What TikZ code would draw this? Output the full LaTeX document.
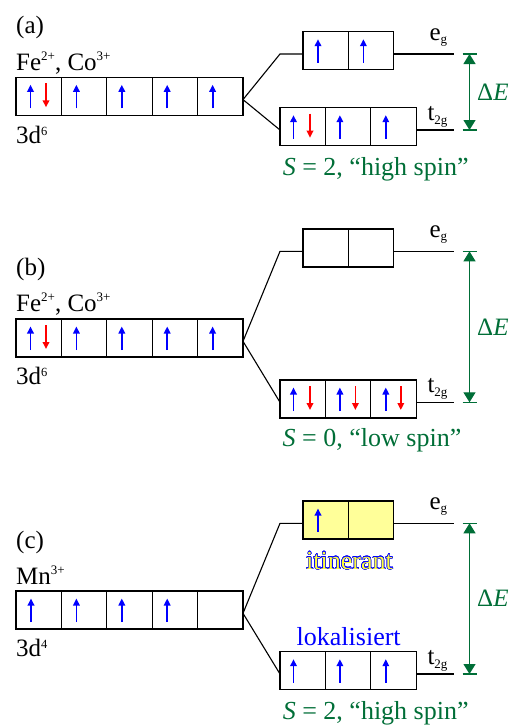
\documentclass[tikz,border=0pt]{standalone}
\usepackage{fontspec}
\setmainfont{Liberation Serif}
\usepackage{contour}
\usetikzlibrary{arrows.meta,calc}
\definecolor{dgreen}{RGB}{0,110,55}
\definecolor{spinblue}{RGB}{0,0,255}
\definecolor{spinred}{RGB}{255,0,0}
\definecolor{lyellow}{RGB}{255,255,153}
\definecolor{txtyellow}{RGB}{255,255,60}
\newcommand\sups[1]{\raisebox{10pt}{\fontsize{13}{13}\selectfont #1}}
\newcommand\supsb[1]{\raisebox{8pt}{\fontsize{12.5}{13}\selectfont #1}}
\newcommand\subs[1]{\raisebox{-3.5pt}{\fontsize{13}{13}\selectfont #1}}
\tikzset{
  cell/.style={draw=black, line width=1.2pt, minimum width=45.4pt, minimum height=38pt,
    inner sep=0pt, outer sep=0pt, anchor=north west},
  level/.style={line width=1.1pt, black},
  upspin/.style={spinblue, line width=1.8pt, -{Triangle[length=7pt,width=6.5pt]}},
  downspin/.style={spinred, line width=1.8pt, -{Triangle[length=7pt,width=6.5pt]}},
  lbl/.style={font=\fontsize{25}{30}\selectfont, inner sep=0pt, anchor=base west},
  clbl/.style={font=\fontsize{26}{30}\selectfont, inner sep=0pt, anchor=base},
  gaparrow/.style={dgreen, line width=1.2pt,
    {Triangle[length=10pt,width=12pt]}-{Triangle[length=10pt,width=12pt]}},
  gaptick/.style={dgreen, line width=1.2pt},
}
\newcommand\orbrow[5]{%
  \foreach \i in {1,...,#4} {\node[cell, fill=#5] (#1\i) at ({#2+(\i-1)*45.4}, #3) {};}}
\newcommand\spinup[2]{\draw[upspin] ($(#1.north west)+(#2,31)$) -- ($(#1.north west)+(#2,7.5)$);}
\newcommand\spindown[2]{\draw[downspin] ($(#1.north west)+(#2,6)$) -- ($(#1.north west)+(#2,30)$);}
% #1 prefix, #2 3d top, #3 eg top, #4 t2g top
\newcommand\levels[4]{%
  \coordinate (#1apex) at ($(#1d5.north east)+(0,22.3)$);
  \coordinate (#1egL) at ($(#1e1.north west)+(-23,22.3)$);
  \coordinate (#1egR) at ($(#1e1.north west)+(151,22.3)$);
  \coordinate (#1tL) at ($(#1t1.north west)+(0,22.3)$);
  \coordinate (#1tR) at ($(#1t1.north west)+(174,22.3)$);
  \draw[level] (#1apex) -- (#1egL) -- (#1e1.west |- #1egL);
  \draw[level] (#1e2.east |- #1egL) -- (#1egR);
  \draw[level] (#1apex) -- (#1tL);
  \draw[level] (#1t3.east |- #1tL) -- (#1tR);
  \coordinate (#1gtop) at (469.5, 0 |- #1egL);
  \coordinate (#1gbot) at (469.5, 0 |- #1tL);
  \draw[gaptick] ([xshift=-7pt]#1gtop) -- ([xshift=7.5pt]#1gtop);
  \draw[gaptick] ([xshift=-7pt]#1gbot) -- ([xshift=7.5pt]#1gbot);
  \draw[gaparrow] (#1gtop) -- (#1gbot);
  \node[lbl, text=dgreen, anchor=west] (#1dE) at ($(#1gtop)!0.5!(#1gbot)+(7.5,0)$) {Δ\textit{E}};
  \node[lbl] (#1eglbl) at ($(#1egL)+(149.3,-14)$) {e\subs{g}};
  \node[lbl] (#1tlbl) at ($(#1tL)+(147.3,-9.5)$) {t\subs{2g}};
}
\begin{document}
\begin{tikzpicture}[x=1pt,y=-1pt]
\useasboundingbox (0,0) rectangle (518,726);

% ---------- (a) ----------
\orbrow{ad}{16}{77.3}{5}{white}
\orbrow{ae}{303}{31.7}{2}{white}
\orbrow{at}{280}{107.7}{3}{white}
\levels{a}{77.3}{31.7}{107.7}
\spinup{ad1}{14.5}\spindown{ad1}{30}
\spinup{ad2}{15}\spinup{ad3}{15}\spinup{ad4}{15}\spinup{ad5}{15}
\spinup{ae1}{15}\spinup{ae2}{15}
\spinup{at1}{13.5}\spindown{at1}{30}
\spinup{at2}{14.5}\spinup{at3}{15}
\node[lbl] (alab) at (16,33.3) {(a)};
\node[lbl] (aion) at (16,70) {Fe\sups{2+}, Co\sups{3+}};
\node[lbl] (acfg) at (16,143) {3d\supsb{6}};
\node[clbl, text=dgreen] (aS) at (375.7,175) {\textit{S} = 2, “high spin”};

% ---------- (b) ----------
\orbrow{bd}{16}{319}{5}{white}
\orbrow{be}{303}{229}{2}{white}
\orbrow{bt}{280}{380}{3}{white}
\levels{b}{319}{229}{380}
\spinup{bd1}{14.5}\spindown{bd1}{30}
\spinup{bd2}{15}\spinup{bd3}{15}\spinup{bd4}{15}\spinup{bd5}{15}
\spinup{bt1}{13.5}\spindown{bt1}{30}
\spinup{bt2}{14.5}\spindown{bt2}{30}
\spinup{bt3}{15}\spindown{bt3}{30}
\node[lbl] (blab) at (16,275) {(b)};
\node[lbl] (bion) at (16,311.7) {Fe\sups{2+}, Co\sups{3+}};
\node[lbl] (bcfg) at (16,384.5) {3d\supsb{6}};
\node[clbl, text=dgreen] (bS) at (372,446) {\textit{S} = 0, “low spin”};

% ---------- (c) ----------
\orbrow{cd}{16}{591}{5}{white}
\orbrow{ce}{303}{501}{2}{lyellow}
\orbrow{ct}{280}{651.7}{3}{white}
\levels{c}{591}{501}{651.7}
\spinup{cd1}{15}\spinup{cd2}{15}\spinup{cd3}{15}\spinup{cd4}{15}
\spinup{ce1}{15}
\spinup{ct1}{13.5}\spinup{ct2}{14.5}\spinup{ct3}{15}
\node[lbl] (clab) at (16,548.3) {(c)};
\node[lbl] (cion) at (16,584) {Mn\sups{3+}};
\node[lbl] (ccfg) at (16,656.7) {3d\supsb{4}};
\node[clbl] (citin) at (349.5,569.3) {\contourlength{0.45pt}\contournumber{24}\contour{spinblue}{\textcolor{txtyellow}{itinerant}}};
\node[clbl, text=spinblue] (clok) at (348.7,645) {lokalisiert};
\node[clbl, text=dgreen] (cS) at (375.7,719.5) {\textit{S} = 2, “high spin”};
\end{tikzpicture}
\end{document}
